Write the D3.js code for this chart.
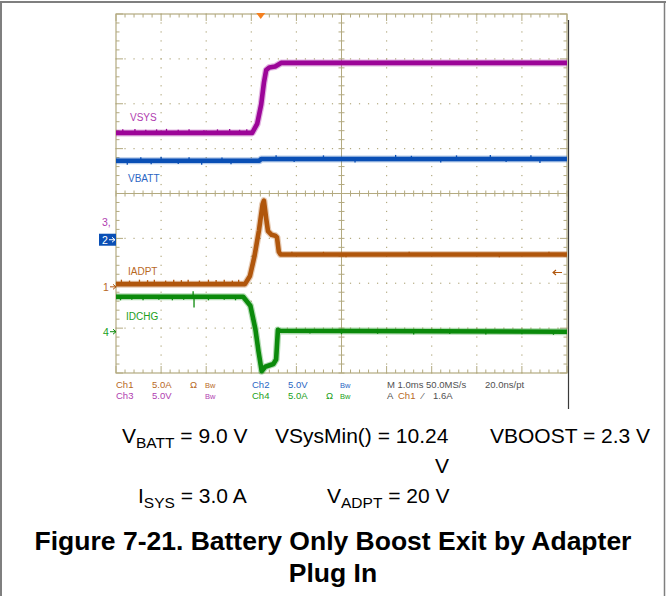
<!DOCTYPE html>
<html>
<head>
<meta charset="utf-8">
<script src="https://cdn.jsdelivr.net/npm/d3@7"></script>
<style>
  html, body { margin: 0; padding: 0; background: #fff; }
  svg { display: block; }
</style>
</head>
<body>
<svg id="chart" width="666" height="596"></svg>
<script>
// ---- Acquisition data: time in ms (1.0 ms/div, 10 divisions) ----
const vsysTime   = [0, 3.02, 3.13, 3.22, 3.28, 3.33, 3.40, 3.53, 3.66, 10];
const vsysVolts  = [10.0, 10.0, 11.0, 13.2, 15.6, 17.0, 17.3, 17.4, 17.8, 17.8];

const vbattTime  = [0, 3.18, 3.22, 10];
const vbattVolts = [8.8, 8.8, 9.0, 9.0];

const iadptTime  = [0, 2.86, 2.97, 3.07, 3.17, 3.25, 3.28, 3.33, 3.37, 3.45, 3.53, 3.57, 3.61, 3.65, 10];
const iadptAmps  = [0.3, 0.3, 1.2, 3.4, 6.3, 9.2, 9.6, 7.6, 6.2, 5.8, 5.7, 5.5, 3.9, 3.6, 3.6];

const idchgTime  = [0, 2.82, 2.98, 3.09, 3.16, 3.23, 3.31, 3.49, 3.55, 3.59, 3.64, 10];
const idchgAmps  = [3.9, 3.9, 2.9, 0.3, -2.2, -4.4, -3.9, -3.6, -3.1, 0.2, 0.1, 0.0];

// short noise glitches riding on each trace (time in ms, excursion in div)
const vsysGlitchT  = [0.15, 0.42, 0.66, 0.9, 1.12, 1.38, 1.62, 1.95, 2.25, 2.52, 2.74, 2.9];
const vsysGlitchD  = [0.08, 0.09, 0.07, 0.08, 0.09, 0.07, 0.08, 0.06, 0.08, 0.09, 0.07, 0.08];
const vbattGlitchT = [0.25, 0.55, 0.78, 1.0, 1.38, 1.62, 1.9, 2.35, 2.55, 3.55, 3.95, 4.6, 5.3, 6.2, 6.55, 7.2, 7.55, 8.3, 8.65, 9.2, 9.4];
const vbattGlitchD = [-0.09, 0.08, -0.08, 0.09, -0.07, 0.08, -0.09, 0.07, -0.08, 0.08, -0.07, 0.08, -0.08, 0.09, 0.07, -0.08, 0.08, 0.09, -0.07, 0.08, -0.09];
const iadptGlitchT = [0.12, 0.3, 0.52, 0.7, 0.85, 1.1, 1.28, 1.45, 1.6, 1.85, 2.05, 2.22, 2.4, 2.58, 2.72, 3.9, 4.6, 5.1, 6.5, 8.5, 9.6];
const iadptGlitchD = [0.1, 0.08, 0.1, 0.09, 0.1, 0.08, 0.1, 0.09, 0.1, 0.08, 0.1, 0.09, 0.1, 0.08, 0.1, 0.06, 0.06, -0.06, 0.06, -0.06, 0.06];
const idchgGlitchT = [0.1, 0.35, 0.6, 0.95, 1.25, 1.5, 1.71, 1.73, 2.05, 2.4, 2.65, 4.3, 5.0, 5.8, 6.6, 7.4, 8.2, 9.0, 9.7];
const idchgGlitchD = [-0.08, -0.07, -0.08, -0.07, -0.08, -0.07, 0.12, -0.24, -0.08, -0.07, -0.08, -0.06, -0.07, -0.06, -0.07, -0.06, -0.07, -0.06, -0.07];

// ---- Vertical setup per channel: units/div and ground position (div from centre) ----
const channelScale  = { ch1: 5, ch2: 5, ch3: 5, ch4: 5 };
const channelGround = { ch1: -2.08, ch2: -1.03, ch3: -0.65, ch4: -3.08 };
const triggerTime = 3.21;      // ms
const triggerLevel = 1.6;      // A on Ch1

// Readout text
const statusRow1 = [
  { t: "Ch1", c: "ch1", x: 116 }, { t: "5.0A", c: "ch1", x: 152 }, { t: "Ω", c: "ch1", x: 190 },
  { t: "Bw", c: "ch1", x: 205, bw: true }, { t: "Ch2", c: "ch2", x: 252 }, { t: "5.0V", c: "ch2", x: 288 },
  { t: "Bw", c: "ch2", x: 340, bw: true }, { t: "M 1.0ms 50.0MS/s", c: "info", x: 387 },
  { t: "20.0ns/pt", c: "info", x: 485 }
];
const statusRow2 = [
  { t: "Ch3", c: "ch3", x: 116 }, { t: "5.0V", c: "ch3", x: 152 },
  { t: "Bw", c: "ch3", x: 205, bw: true }, { t: "Ch4", c: "ch4", x: 252 }, { t: "5.0A", c: "ch4", x: 288 },
  { t: "Ω", c: "ch4", x: 326 }, { t: "Bw", c: "ch4", x: 340, bw: true }, { t: "A", c: "info", x: 387 },
  { t: "Ch1", c: "ch1", x: 398 }, { t: "⁄", c: "info", x: 422 }, { t: "1.6A", c: "info", x: 433 }
];

const traceColor = { ch1: "#b0560c", ch2: "#0a4fb5", ch3: "#9c0598", ch4: "#0b8a0b", info: "#505050" };
const textColor  = { ch1: "#b8691f", ch2: "#2a66c4", ch3: "#b03db0", ch4: "#21a021", info: "#505050" };
const gridColor = "#b3aa80";

const svg = d3.select("#chart");

// ---- Page frame ----
svg.append("line").attr("x1", 0).attr("x2", 666).attr("y1", 2).attr("y2", 2)
  .attr("stroke", "#7f7f7f").attr("stroke-width", 2);
svg.append("line").attr("x1", 1).attr("x2", 1).attr("y1", 1).attr("y2", 596)
  .attr("stroke", "#7f7f7f").attr("stroke-width", 2);
svg.append("line").attr("x1", 664.5).attr("x2", 664.5).attr("y1", 1).attr("y2", 596)
  .attr("stroke", "#7f7f7f").attr("stroke-width", 1.5);

// ---- Graticule ----
const plot = { left: 116, right: 567, top: 14, bottom: 373 };
const x = d3.scaleLinear().domain([0, 10]).range([plot.left, plot.right]);
const y = d3.scaleLinear().domain([-4, 4]).range([plot.bottom, plot.top]);

const grid = svg.append("g");
const minorX = d3.range(0, 10.001, 0.2);
const minorY = d3.range(-4, 4.001, 0.2);

// dotted division lines
d3.range(1, 10).filter(d => d !== 5).forEach(d => {
  grid.selectAll(null).data(minorY).join("rect")
    .attr("x", x(d) - 0.6).attr("y", v => y(v) - 0.6).attr("width", 1.2).attr("height", 1.2)
    .attr("fill", gridColor);
});
d3.range(-3, 4).filter(d => d !== 0).forEach(d => {
  grid.selectAll(null).data(minorX).join("rect")
    .attr("x", v => x(v) - 0.6).attr("y", y(d) - 0.6).attr("width", 1.2).attr("height", 1.2)
    .attr("fill", gridColor);
});

// centre cross with ticks
grid.append("line").attr("x1", x(5)).attr("x2", x(5)).attr("y1", plot.top).attr("y2", plot.bottom)
  .attr("stroke", gridColor).attr("stroke-width", 1);
grid.append("line").attr("x1", plot.left).attr("x2", plot.right).attr("y1", y(0)).attr("y2", y(0))
  .attr("stroke", gridColor).attr("stroke-width", 1);
grid.selectAll(null).data(minorY).join("line")
  .attr("x1", x(5) - 3).attr("x2", x(5) + 3).attr("y1", v => y(v)).attr("y2", v => y(v))
  .attr("stroke", gridColor);
grid.selectAll(null).data(minorX).join("line")
  .attr("x1", v => x(v)).attr("x2", v => x(v)).attr("y1", y(0) - 3).attr("y2", y(0) + 3)
  .attr("stroke", gridColor);

// border ticks
const isMajor = v => Math.abs(v - Math.round(v)) < 1e-6;
grid.selectAll(null).data(minorX).join("line")
  .attr("x1", v => x(v)).attr("x2", v => x(v))
  .attr("y1", plot.top).attr("y2", v => plot.top + (isMajor(v) ? 7 : 3.5))
  .attr("stroke", gridColor);
grid.selectAll(null).data(minorX).join("line")
  .attr("x1", v => x(v)).attr("x2", v => x(v))
  .attr("y1", plot.bottom).attr("y2", v => plot.bottom - (isMajor(v) ? 7 : 3.5))
  .attr("stroke", gridColor);
grid.selectAll(null).data(minorY).join("line")
  .attr("x1", plot.left).attr("x2", v => plot.left + (isMajor(v) ? 7 : 3.5))
  .attr("y1", v => y(v)).attr("y2", v => y(v))
  .attr("stroke", gridColor);
grid.selectAll(null).data(minorY).join("line")
  .attr("x1", plot.right).attr("x2", v => plot.right - (isMajor(v) ? 7 : 3.5))
  .attr("y1", v => y(v)).attr("y2", v => y(v))
  .attr("stroke", gridColor);
grid.append("rect").attr("x", plot.left).attr("y", plot.top)
  .attr("width", plot.right - plot.left).attr("height", plot.bottom - plot.top)
  .attr("fill", "none").attr("stroke", gridColor).attr("stroke-width", 1.2);

// instrument bezel edge on the right
svg.append("line").attr("x1", 568.5).attr("x2", 568.5).attr("y1", 20).attr("y2", 409)
  .attr("stroke", "#3a3a3a").attr("stroke-width", 1.2);

// ---- Traces ----
const chY = (ch, v) => y(v / channelScale[ch] + channelGround[ch]);

function drawTrace(ch, times, values, glitchT, glitchD) {
  const pts = times.map((t, i) => [x(t), chY(ch, values[i])]);
  const line = d3.line();
  const g = svg.append("g");
  g.append("path").attr("d", line(pts)).attr("fill", "none")
    .attr("stroke", traceColor[ch]).attr("stroke-opacity", 0.3)
    .attr("stroke-width", 7).attr("stroke-linejoin", "round");
  g.append("path").attr("d", line(pts)).attr("fill", "none")
    .attr("stroke", traceColor[ch]).attr("stroke-width", 4.6).attr("stroke-linejoin", "round");
  const interp = d3.scaleLinear().domain(times).range(values.map(v => chY(ch, v)));
  g.selectAll(null).data(glitchT).join("line")
    .attr("x1", t => x(t)).attr("x2", t => x(t))
    .attr("y1", t => interp(t))
    .attr("y2", (t, i) => interp(t) - glitchD[i] * (y(0) - y(1)))
    .attr("stroke", traceColor[ch]).attr("stroke-width", 1.3);
}

drawTrace("ch2", vbattTime, vbattVolts, vbattGlitchT, vbattGlitchD);
drawTrace("ch3", vsysTime, vsysVolts, vsysGlitchT, vsysGlitchD);
drawTrace("ch1", iadptTime, iadptAmps, iadptGlitchT, iadptGlitchD);
drawTrace("ch4", idchgTime, idchgAmps, idchgGlitchT, idchgGlitchD);

// ---- Trace labels ----
const labelFont = "Liberation Sans, Arial, sans-serif";
const traceLabels = [
  { t: "VSYS", c: "ch3", x: 130, y: 121 },
  { t: "VBATT", c: "ch2", x: 128, y: 182 },
  { t: "IADPT", c: "ch1", x: 128, y: 275 },
  { t: "IDCHG", c: "ch4", x: 126, y: 320 }
];
svg.selectAll(null).data(traceLabels).join("text")
  .attr("x", d => d.x).attr("y", d => d.y).text(d => d.t)
  .attr("fill", d => textColor[d.c]).attr("font-family", labelFont).attr("font-size", 10);

// ---- Ground reference markers ----
const gm = svg.append("g").attr("font-family", labelFont).attr("font-size", 10.5);
// Ch3 (partially covered)
gm.append("text").attr("x", 102).attr("y", chY("ch3", 0) + 3).text("3,")
  .attr("fill", textColor.ch3);
// Ch2 boxed marker
gm.append("rect").attr("x", 99).attr("y", chY("ch2", 0) - 6).attr("width", 17).attr("height", 12)
  .attr("fill", "#0a4fb5");
gm.append("text").attr("x", 102).attr("y", chY("ch2", 0) + 4).text("2").attr("fill", "#fff");
gm.append("path").attr("d", `M109,${chY("ch2", 0)}h6m-3,-2.5l3,2.5l-3,2.5`)
  .attr("stroke", "#fff").attr("fill", "none").attr("stroke-width", 1);
// Ch1 and Ch4 markers
[["ch1", "1"], ["ch4", "4"]].forEach(([ch, label]) => {
  const gy = chY(ch, 0);
  gm.append("text").attr("x", 103).attr("y", gy + 4).text(label).attr("fill", textColor[ch]);
  gm.append("path").attr("d", `M110,${gy}h6m-3,-2.5l3,2.5l-3,2.5`)
    .attr("stroke", traceColor[ch]).attr("fill", "none").attr("stroke-width", 1);
});

// trigger position marker
const tx = x(triggerTime);
svg.append("path").attr("d", `M${tx - 4.5},${plot.top - 1}L${tx + 4.5},${plot.top - 1}L${tx},${plot.top + 5}Z`)
  .attr("fill", "#f5801f");
// trigger level marker
const ty = chY("ch1", triggerLevel);
svg.append("path").attr("d", `M562,${ty}h-9m3,-2.5l-3,2.5l3,2.5`)
  .attr("stroke", traceColor.ch1).attr("fill", "none").attr("stroke-width", 1.1);

// ---- Readout rows ----
function drawRow(items, baseline) {
  items.forEach(d => {
    svg.append("text").attr("x", d.x).attr("y", baseline).text(d.t)
      .attr("fill", textColor[d.c]).attr("font-family", labelFont)
      .attr("font-size", d.bw ? 7.5 : 9.5);
  });
}
drawRow(statusRow1, 388);
drawRow(statusRow2, 399);

// ---- Test conditions ----
const condFont = "Liberation Sans, Arial, sans-serif";
const cond = svg.append("g").attr("font-family", condFont).attr("font-size", 21).attr("fill", "#000");
function condText(xPos, yPos, main, sub, rest) {
  const t = cond.append("text").attr("x", xPos).attr("y", yPos);
  t.append("tspan").text(main);
  if (sub) t.append("tspan").attr("font-size", 15.5).attr("dy", 5).text(sub);
  t.append("tspan").attr("dy", sub ? -5 : 0).text(rest);
  return t;
}
condText(122, 443, "V", "BATT", " = 9.0 V");
condText(275, 443, "VSysMin() = 10.24", null, "");
condText(435, 473, "V", null, "");
condText(490, 443, "VBOOST = 2.3 V", null, "");
condText(138, 503, "I", "SYS", " = 3.0 A");
condText(327, 503, "V", "ADPT", " = 20 V");

// ---- Caption ----
const caption = ["Figure 7-21. Battery Only Boost Exit by Adapter", "Plug In"];
svg.selectAll(null).data(caption).join("text")
  .attr("x", 333).attr("y", (d, i) => 550 + i * 32)
  .attr("text-anchor", "middle").text(d => d)
  .attr("font-family", condFont).attr("font-weight", "bold").attr("font-size", 26.5).attr("fill", "#000");
</script>
</body>
</html>
